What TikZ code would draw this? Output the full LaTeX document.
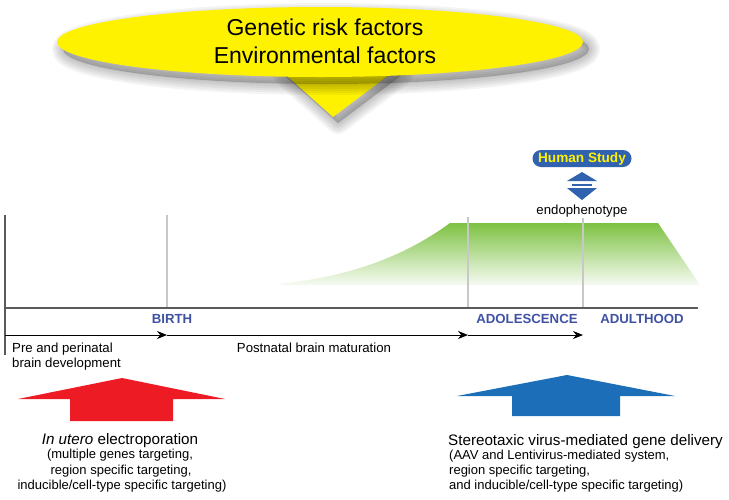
\documentclass[tikz,border=0pt]{standalone}
\usepackage{fontspec}
\setmainfont{Liberation Sans}
\usetikzlibrary{arrows.meta}
\definecolor{cyel}{HTML}{FFF200}
\definecolor{cgreen}{HTML}{7DC142}
\definecolor{cred}{HTML}{ED1C24}
\definecolor{cblue}{HTML}{1B6EB7}
\definecolor{cpill}{HTML}{3062B0}
\definecolor{clabel}{HTML}{3F51A3}
\definecolor{caxis}{HTML}{5A5A5A}
\definecolor{cgrid}{HTML}{C8C8C8}
\begin{document}
\begin{tikzpicture}[x=1pt,y=-1pt,
  txt/.style={inner sep=0pt, anchor=base},
  stage/.style={txt, text=clabel, font=\bfseries\fontsize{13.2}{15}\selectfont},
  body/.style={txt, font=\fontsize{13.2}{15}\selectfont},
  title/.style={txt, font=\fontsize{15.2}{17}\selectfont},
  sub/.style={txt, font=\fontsize{13}{15}\selectfont},
  tl/.style={line width=1pt, -{Stealth[length=10pt,width=8pt]}},
  grid/.style={cgrid, line width=1.2pt},
  shadfill/.style={black, opacity=0.2},
  shadline/.style={black, opacity=#1, line join=round}
]
\useasboundingbox (0,0) rectangle (729,499);

% callout: triangle with shadow
\begin{scope}[shift={(5,6)}]
  \fill[shadfill] (278,68) -- (333,117) -- (398,68) -- cycle;
  \foreach \w in {22,18,14,10,6,2}
    \draw[shadline=0.045, line width=\w pt] (278,68) -- (333,117) -- (398,68) -- cycle;
\end{scope}
\fill[cyel] (278,68) -- (333,117) -- (398,68) -- cycle;
% ellipse with shadow
\begin{scope}[shift={(6,7)}]
  \fill[shadfill] (320,42) ellipse [x radius=263, y radius=35];
  \foreach \w in {22,18,14,10,6,2}
    \draw[shadline=0.045, line width=\w pt] (320,42) ellipse [x radius=263, y radius=35];
\end{scope}
\fill[cyel] (320,42) ellipse [x radius=263, y radius=35];
\node[txt, font=\fontsize{23}{27}\selectfont] (g1) at (325,35) {Genetic risk factors};
\node[txt, font=\fontsize{23}{27}\selectfont] (g2) at (325,63) {Environmental factors};

% green plateau
\shade[top color=cgreen, bottom color=cgreen!6!white]
  (277,284) .. controls (350,277) and (405,256) .. (450,223) -- (658,223) -- (700,285) -- (285,285) -- cycle;

% grid lines
\draw[grid] (167,215) -- (167,308);
\draw[grid] (468,217) -- (468,308);
\draw[grid] (583,218) -- (583,308);

% axes
\draw[caxis, line width=1.5pt] (5,215) -- (5,355);
\draw[caxis, line width=1.5pt] (5,308) -- (698,308);

% stage labels
\node[stage] (birth) at (172,323) {BIRTH};
\node[stage] (adol) at (527,323) {ADOLESCENCE};
\node[stage] (adult) at (642,323) {ADULTHOOD};

% timeline arrows
\coordinate (t0) at (5,335);
\coordinate (t1) at (167,335);
\coordinate (t2) at (468,335);
\coordinate (t3) at (583,335);
\draw[tl] (t0) -- (t1);
\draw[tl] (t1) -- (t2);
\draw[tl] (t2) -- (t3);

\node[body, anchor=base west] (pre1) at (12,352) {Pre and perinatal};
\node[body, anchor=base west] (pre2) at (12,367) {brain development};
\node[body] (post) at (314,352) {Postnatal brain maturation};

% human study
\node[fill=cpill, rounded corners=8.5pt, minimum width=99pt, minimum height=17pt, inner sep=0pt,
      text=cyel, font=\bfseries\fontsize{13.6}{15}\selectfont] (hs) at (582,158.5) {Human Study};
\fill[cpill] (567,181) -- (582,172) -- (597,181) -- cycle;
\fill[cpill] (572,183.5) rectangle (592,186);
\fill[cpill] (567,188) -- (582,200) -- (597,188) -- cycle;
\node[body] (endo) at (582,214) {endophenotype};

% red block arrow
\fill[cred] (18,399) -- (122,378) -- (225,399) -- (173,399) -- (173,421) -- (70,421) -- (70,399) -- cycle;
\node[title] (iu) at (120,444) {\itshape In utero\upshape{} electroporation};
\node[sub] (iu1) at (120,458) {(multiple genes targeting,};
\node[sub] (iu2) at (121,474) {region specific targeting,};
\node[sub] (iu3) at (122,489) {inducible/cell-type specific targeting)};

% blue block arrow
\fill[cblue] (457,396) -- (567,375) -- (675,396) -- (620,396) -- (620,416) -- (512,416) -- (512,396) -- cycle;
\node[title, anchor=base west] (st) at (448,445) {Stereotaxic virus-mediated gene delivery};
\node[sub, anchor=base west] (st1) at (449,459) {(AAV and Lentivirus-mediated system,};
\node[sub, anchor=base west] (st2) at (449,474) {region specific targeting,};
\node[sub, anchor=base west] (st3) at (449,489) {and inducible/cell-type specific targeting)};
\end{tikzpicture}
\end{document}
